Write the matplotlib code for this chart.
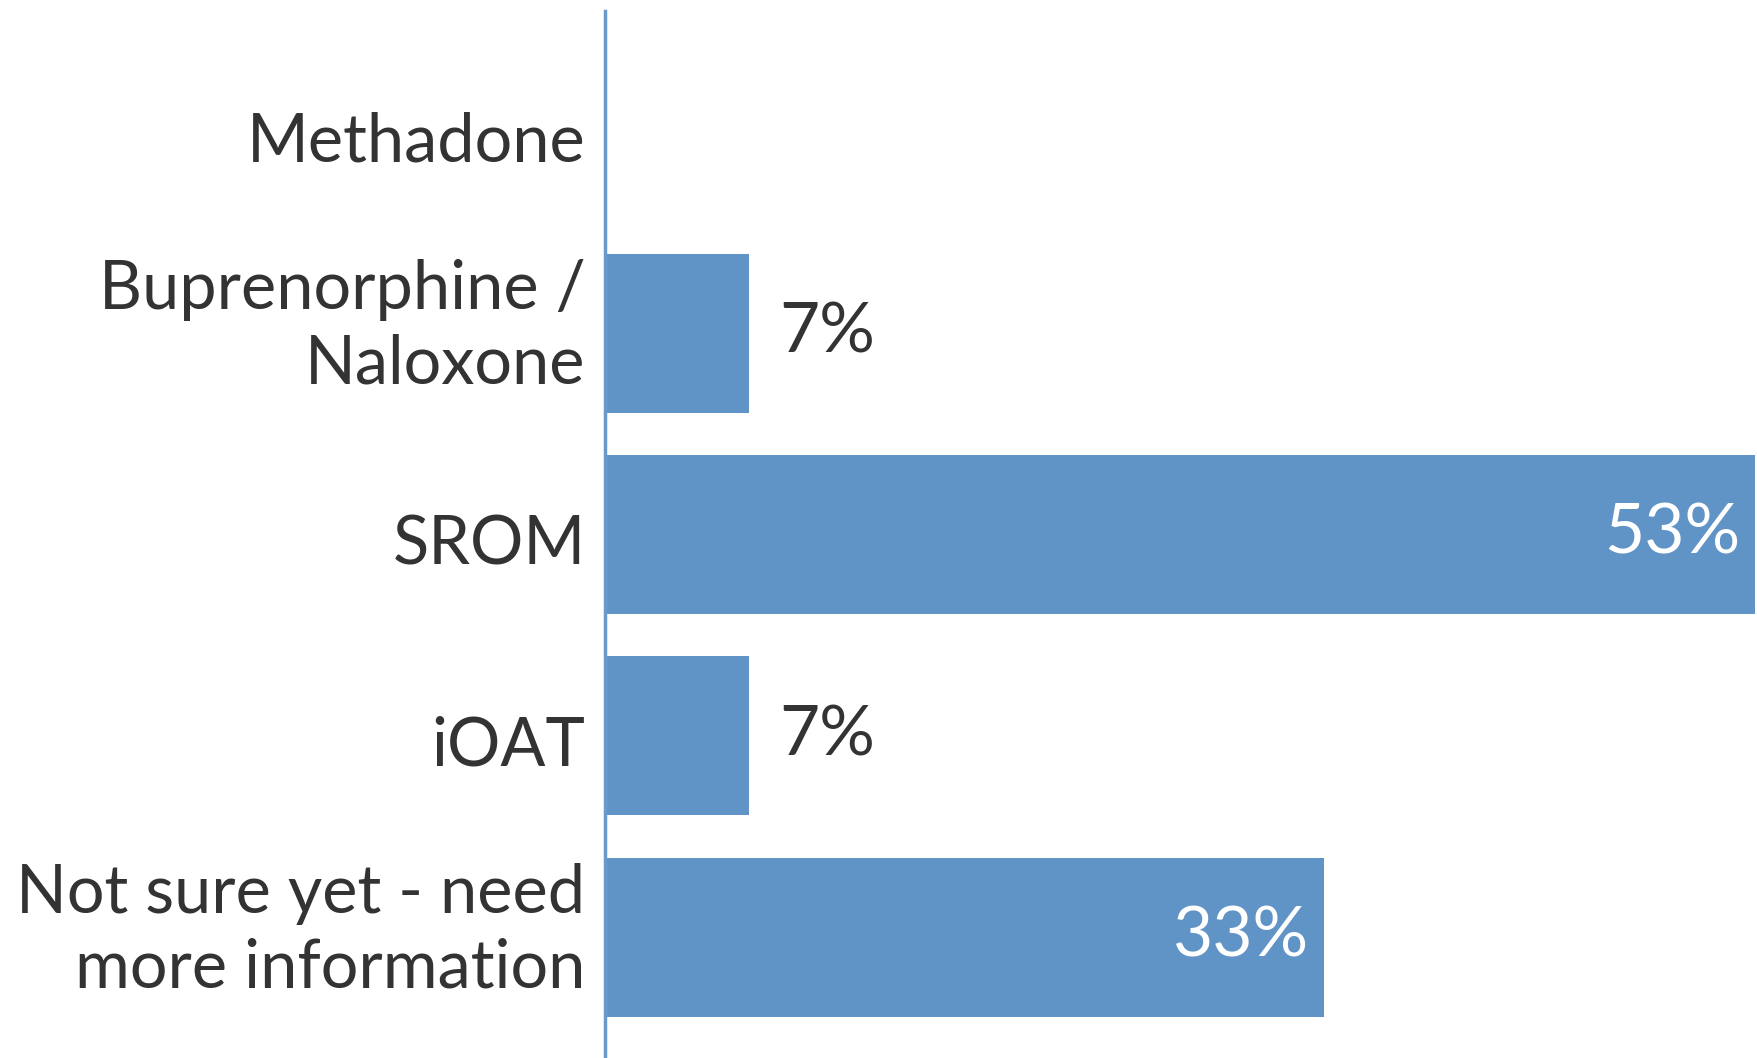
import matplotlib
matplotlib.use("Agg")
import matplotlib.pyplot as plt
from matplotlib.transforms import ScaledTranslation

# Chart data
categories = ["Methadone", "Buprenorphine /\nNaloxone", "SROM", "iOAT",
              "Not sure yet - need\nmore information"]
values = [0.0, 6.67, 53.33, 6.67, 33.33]
value_labels = ["", "7%", "53%", "7%", "33%"]

bar_color = "#6194c6"
text_color = "#333333"

plt.rcParams['font.family'] = ['Lato', 'DejaVu Sans']

fig = plt.figure(figsize=(17.57, 10.58), dpi=100)
ax = fig.add_axes([605 / 1757, 0, 1 - 605 / 1757, 1 - 11 / 1058])

y = list(range(len(categories)))
bars = ax.barh(y, values, height=0.79, color=bar_color)

ax.set_ylim(4.6, -0.6)
ax.set_xlim(0, 53.4)

# Value labels: inside for long bars, outside for short ones
for rect, val, lab in zip(bars, values, value_labels):
    if not lab:
        continue
    yc = rect.get_y() + rect.get_height() / 2
    if val > 20:
        ax.annotate(lab, xy=(val, yc), xytext=(-11, 0), textcoords="offset points",
                    ha='right', va='center', color='white', fontsize=50)
    else:
        ax.annotate(lab, xy=(val, yc), xytext=(22, 0), textcoords="offset points",
                    ha='left', va='center', color=text_color, fontsize=50)

ax.set_yticks(y)
ax.set_yticklabels(categories, fontsize=48, color=text_color, linespacing=1.25)
ax.tick_params(axis='y', length=0, pad=14)
ax.set_xticks([])

# nudge labels: two-line ones sit a bit higher, single-line a bit lower
for lbl in ax.get_yticklabels():
    dy = 0.18 if "\n" in lbl.get_text() else -0.05
    lbl.set_transform(lbl.get_transform() + ScaledTranslation(0, dy, fig.dpi_scale_trans))

for side in ['top', 'right', 'bottom']:
    ax.spines[side].set_visible(False)
ax.spines['left'].set_color("#6a9acb")
ax.spines['left'].set_linewidth(2.5)

fig.savefig("out.png", dpi=100)
